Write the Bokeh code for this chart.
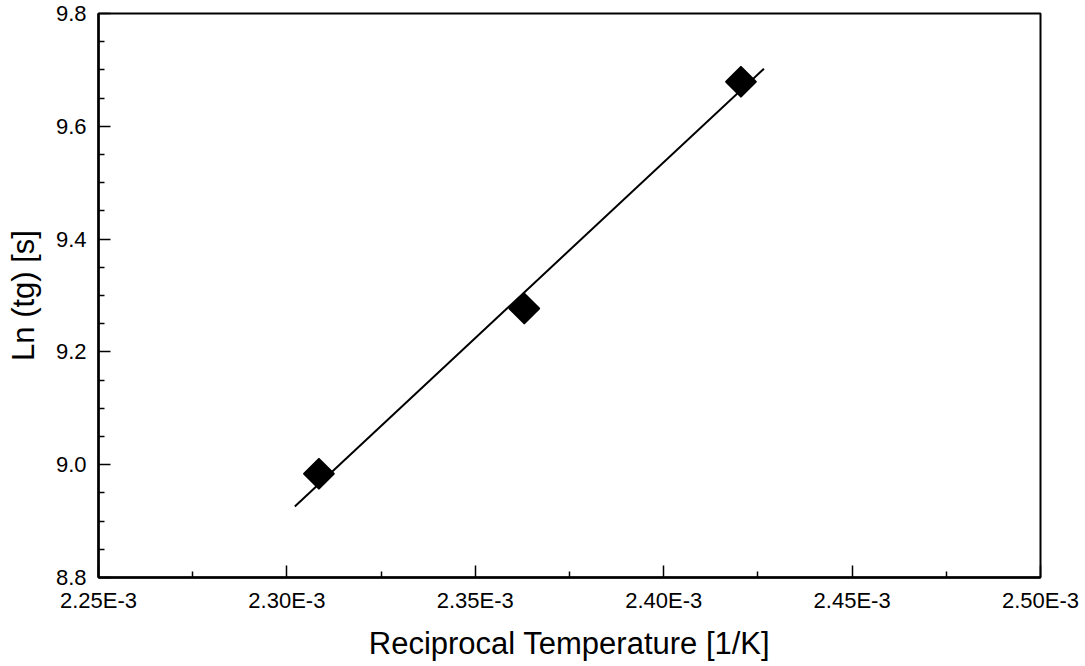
from bokeh.plotting import figure
from bokeh.models import FixedTicker, Range1d
from bokeh.embed import file_html
from bokeh.resources import INLINE
import math

# Data
recip_temp = [2.3085e-3, 2.3630e-3, 2.4205e-3]
ln_tg = [8.984, 9.277, 9.679]

fit_x = [2.3021e-3, 2.4266e-3]
fit_y = [8.926, 9.702]

x_ticks = [2.25e-3, 2.30e-3, 2.35e-3, 2.40e-3, 2.45e-3, 2.50e-3]
x_tick_labels = ["2.25E-3", "2.30E-3", "2.35E-3", "2.40E-3", "2.45E-3", "2.50E-3"]
x_minor = [2.275e-3, 2.325e-3, 2.375e-3, 2.425e-3, 2.475e-3]

y_ticks = [8.8, 9.0, 9.2, 9.4, 9.6, 9.8]
y_tick_labels = ["8.8", "9.0", "9.2", "9.4", "9.6", "9.8"]
y_minor = [8.85, 8.9, 8.95, 9.05, 9.1, 9.15, 9.25, 9.3, 9.35, 9.45, 9.5, 9.55, 9.65, 9.7, 9.75]

FONT = "Liberation Sans"

p = figure(width=1085, height=666, output_backend="svg", toolbar_location=None,
           x_range=Range1d(2.25e-3, 2.50e-3), y_range=Range1d(8.8, 9.8),
           min_border_left=98, min_border_right=45, min_border_top=13, min_border_bottom=89)

p.background_fill_color = "white"
p.border_fill_color = "white"
p.outline_line_color = "black"
p.outline_line_width = 2
p.xgrid.visible = False
p.ygrid.visible = False

p.line(fit_x, fit_y, line_color="black", line_width=2)
p.scatter(recip_temp, ln_tg, marker="square", size=21, angle=math.pi / 4,
          fill_color="black", line_color="black", line_width=2, line_join="round")

p.xaxis.ticker = FixedTicker(ticks=x_ticks, minor_ticks=x_minor)
p.yaxis.ticker = FixedTicker(ticks=y_ticks, minor_ticks=y_minor)
p.xaxis.major_label_overrides = {t: l for t, l in zip(x_ticks, x_tick_labels)}
p.yaxis.major_label_overrides = {t: l for t, l in zip(y_ticks, y_tick_labels)}

p.xaxis.axis_label = "Reciprocal Temperature [1/K]"
p.yaxis.axis_label = "Ln (tg) [s]"

for ax in (p.xaxis, p.yaxis):
    ax.axis_line_width = 2.5
    ax.axis_line_color = "black"
    ax.major_tick_in = 12
    ax.major_tick_out = 0
    ax.minor_tick_in = 6
    ax.minor_tick_out = 0
    ax.major_tick_line_width = 1.5
    ax.minor_tick_line_width = 1.5
    ax.major_tick_line_color = "black"
    ax.minor_tick_line_color = "black"
    ax.major_label_text_font = FONT
    ax.major_label_text_font_size = "22px"
    ax.major_label_text_color = "black"
    ax.axis_label_text_font = FONT
    ax.axis_label_text_font_size = "31px"
    ax.axis_label_text_font_style = "normal"
    ax.axis_label_text_color = "black"

p.xaxis.major_label_standoff = 10
p.xaxis.axis_label_standoff = 10
p.yaxis.major_label_standoff = 12
p.yaxis.axis_label_standoff = 12

open("out.html", "w").write(file_html(p, INLINE))
